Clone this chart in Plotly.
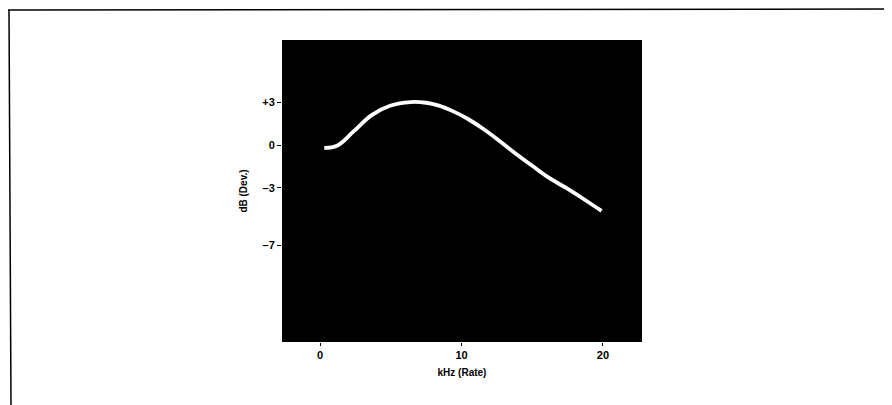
import plotly.graph_objects as go

# Data
rate_khz = [0.3, 1.2, 2.35, 3.65, 4.95, 6.4, 7.5, 8.4, 9.3, 10.4, 11.5, 12.6, 13.7, 15.0, 16.2, 17.4, 18.6, 19.9]
dev_db = [-0.2, -0.05, 0.93, 2.09, 2.74, 3.0, 2.95, 2.75, 2.4, 1.85, 1.15, 0.35, -0.5, -1.45, -2.3, -3.0, -3.75, -4.6]

x_ticks = [0, 10, 20]
x_ticklabels = ["0", "10", "20"]
y_ticks = [3, 0, -3, -7]
y_ticklabels = ["+3", "0", "\u20133", "\u20137"]

W, H = 892, 405
L, R, T, B = 282, 642, 40, 342

def px(xp):
    return (xp - L) / (R - L)

def py(yp):
    return (B - yp) / (B - T)

fig = go.Figure()
fig.add_trace(go.Scatter(
    x=rate_khz, y=dev_db, mode="lines",
    line=dict(color="white", width=3.8, shape="spline", smoothing=1.1),
    hoverinfo="skip", showlegend=False,
))

font_family = "Liberation Sans, Arial, sans-serif"

fig.update_layout(
    width=W, height=H,
    margin=dict(l=L, r=W - R, t=T, b=H - B, pad=0),
    paper_bgcolor="white",
    plot_bgcolor="black",
    font=dict(family=font_family, size=10, color="black", weight="bold"),
    xaxis=dict(
        range=[-2.69, 22.76],
        tickvals=x_ticks, ticktext=x_ticklabels,
        ticks="outside", ticklen=3, tickcolor="black", tickwidth=1,
        showgrid=False, zeroline=False, showline=False,
        tickfont=dict(size=11, family=font_family, weight="bold"),
        title=dict(text="kHz (Rate)", standoff=8,
                   font=dict(size=10, family=font_family, weight="bold")),
    ),
    yaxis=dict(
        range=[-13.75, 7.33],
        tickvals=y_ticks, ticktext=y_ticklabels,
        ticks="outside", ticklen=4, tickcolor="black", tickwidth=1,
        showgrid=False, zeroline=False, showline=False,
        tickfont=dict(size=11, family=font_family, weight="bold"),
        title=dict(text="dB (Dev.)", standoff=12,
                   font=dict(size=10, family=font_family, weight="bold")),
    ),
    shapes=[
        dict(type="line", xref="paper", yref="paper",
             x0=px(8), x1=px(884), y0=py(10), y1=py(9),
             line=dict(color="black", width=1.5)),
        dict(type="line", xref="paper", yref="paper",
             x0=px(9), x1=px(11), y0=py(10), y1=py(405),
             line=dict(color="black", width=1.5)),
    ],
)

fig.write_html("out.html")
